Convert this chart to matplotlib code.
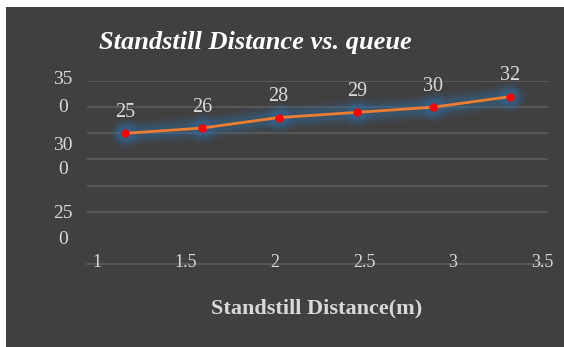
import matplotlib.pyplot as plt
from matplotlib.patches import Rectangle
from matplotlib.transforms import blended_transform_factory

# Data
distance = [1.16, 1.59, 2.02, 2.46, 2.89, 3.32]
queue = [25, 26, 28, 29, 30, 32]
x_ticks = [1, 1.5, 2, 2.5, 3, 3.5]
x_tick_labels = ["1", "1.5", "2", "2.5", "3", "3.5"]
y_tick_pos = [35.2, 30.0, 22.6, 18.0, 9.75, 4.6]
y_tick_labels = ["35", "0", "30", "0", "25", "0"]
grid_vals = [10, 15, 20, 25, 30, 35]

bg = "#404040"
txt = "#d9d9d9"
plt.rcParams['font.family'] = ['Liberation Serif', 'DejaVu Serif']

fig = plt.figure(figsize=(5.64, 3.47), dpi=100, facecolor="white")
# dark chart area with a thin white margin top/left
fig.patches.append(Rectangle((6 / 564, 0), 1, 1 - 7 / 347, transform=fig.transFigure,
                             facecolor=bg, edgecolor="none", zorder=-10))

ax = fig.add_axes([87 / 564, 1 - 264 / 347, 461 / 564, 183 / 347])
ax.set_facecolor(bg)
ax.patch.set_alpha(0)
ax.set_xlim(0.944, 3.534)
ax.set_ylim(0, 35)

for s in ax.spines.values():
    s.set_visible(False)
ax.set_xticks([])
ax.set_yticks([])

for g in grid_vals:
    ax.axhline(g, color="#5c5c5c", lw=1.2, zorder=1)
ax.axhline(0, color="#5c5c5c", lw=1.2, zorder=1, clip_on=False)

# soft blue glow behind the line
for w, a in [(18, 0.10), (13, 0.15), (9, 0.22)]:
    ax.plot(distance, queue, color="#2f6fa8", lw=w, alpha=a,
            solid_capstyle="round", zorder=2)
    ax.plot(distance, queue, "o", color="#2f6fa8", ms=w + 4, alpha=a,
            markeredgewidth=0, zorder=2)

ax.plot(distance, queue, color="#ed7d31", lw=2, zorder=3)
ax.plot(distance, queue, "o", color="#ff0000", ms=5, zorder=4)

for xv, yv in zip(distance, queue):
    ax.annotate(str(yv), (xv, yv), xytext=(0, 15), textcoords="offset points",
                ha="center", va="center", color=txt, fontsize=14.5)

for xv, lab in zip(x_ticks, x_tick_labels):
    ax.text(xv, 0.3, lab, ha="center", va="center", color=txt, fontsize=13,
            clip_on=False)

trans = blended_transform_factory(ax.transAxes, ax.transData)
for yv, lab in zip(y_tick_pos, y_tick_labels):
    ax.text(-0.052, yv, lab, transform=trans, ha="center", va="center",
            color=txt, fontsize=14, clip_on=False)

fig.text(255 / 564, 1 - 43 / 347, "Standstill Distance vs. queue",
         ha="center", va="center", color="white", fontsize=19,
         fontweight="bold", style="italic")
fig.text(317 / 564, 1 - 308 / 347, "Standstill Distance(m)",
         ha="center", va="center", color=txt, fontsize=16, fontweight="bold")

plt.savefig("out.png", dpi=100, facecolor=fig.get_facecolor())
